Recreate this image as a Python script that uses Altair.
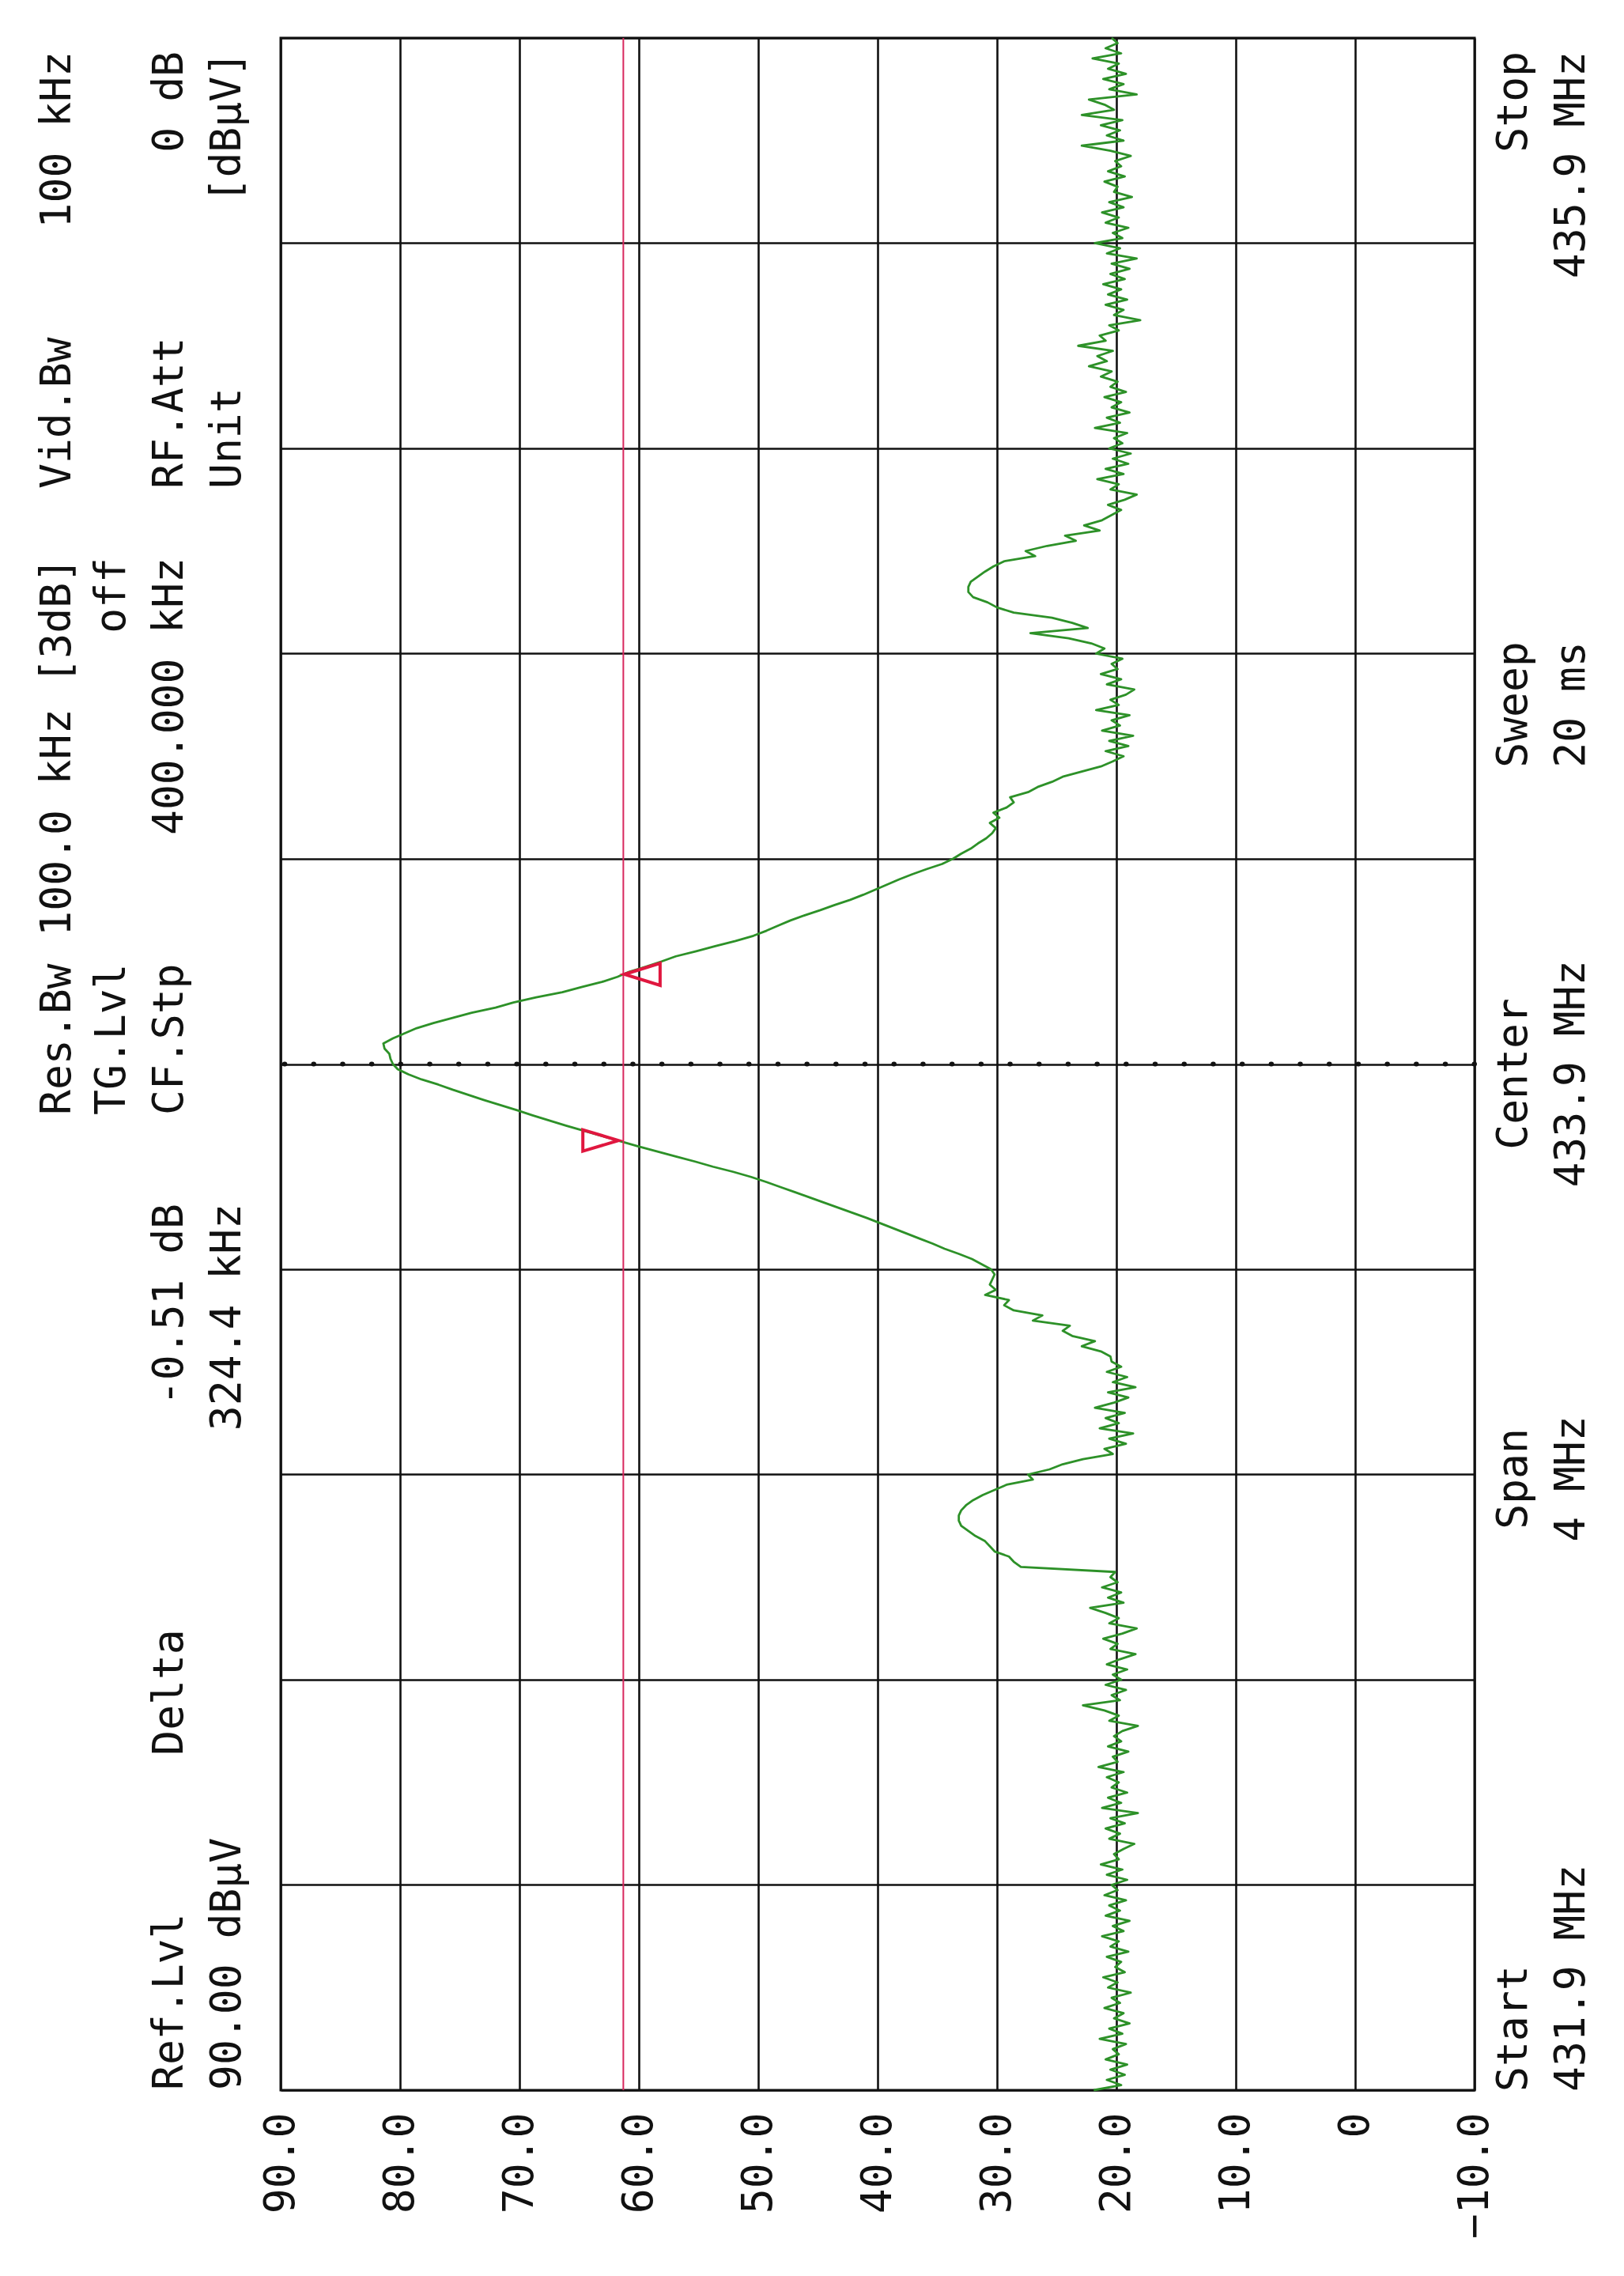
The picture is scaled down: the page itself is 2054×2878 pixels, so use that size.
import altair as alt
import pandas as pd

# ---- sweep data (level in dBuV, 0.01 MHz steps) ----
START_MHZ = 431.9
STEP_MHZ = 0.01

levels = [
    21.9, 19.6, 20.8, 19.3, 20.5, 19.1, 20.9, 19.8, 20.3, 19.2,
    21.4, 19.5, 20.6, 18.9, 20.2, 19.4, 21.0, 19.7, 20.4, 18.8,
    20.7, 19.9, 21.1, 19.3, 20.1, 19.6, 20.8, 19.0, 20.5, 19.8,
    21.2, 19.4, 20.3, 18.9, 20.9, 19.7, 20.6, 19.2, 21.0, 19.9,
    20.4, 19.1, 20.8, 19.5, 21.3, 19.8, 20.2, 19.4, 18.5, 20.6,
    19.7, 20.9, 19.3, 20.5, 18.2, 21.2, 19.6, 20.7, 19.1, 20.4,
    19.8, 20.8, 19.4, 21.5, 19.9, 20.3, 19.0, 20.7, 19.6, 20.2,
    19.5, 18.2, 20.6, 19.8, 21.0, 22.8, 19.7, 20.4, 19.2, 20.9,
    19.6, 20.3, 19.1, 20.8, 19.7, 18.4, 20.5, 19.9, 21.1, 19.5,
    18.3, 20.6, 19.8, 20.9, 22.2, 19.4, 20.7, 19.6, 21.2, 19.9,
    20.5, 20.1, 28.0, 28.6, 29.0, 30.2, 30.6, 31.0, 31.8, 32.4,
    33.0, 33.2, 33.2, 33.0, 32.6, 32.0, 31.2, 30.2, 29.2, 27.0,
    27.4, 25.6, 24.5, 22.8, 20.3, 21.0, 19.2, 20.6, 18.6, 21.4,
    19.8, 20.9, 19.3, 21.8, 20.2, 19.0, 20.7, 18.4, 20.3, 19.1,
    20.8, 19.6, 20.4, 20.5, 21.3, 22.9, 21.8, 23.7, 24.5, 23.9,
    27.0, 26.2, 28.6, 29.4, 29.0, 31.0, 30.1, 30.6, 30.4, 30.2,
    30.5, 31.3, 32.1, 33.2, 34.4, 35.4, 36.5, 37.6, 38.7, 39.8,
    40.9, 42.1, 43.3, 44.5, 45.7, 46.9, 48.1, 49.3, 50.6, 52.1,
    53.8, 55.3, 56.9, 58.5, 60.1, 61.6, 63.1, 64.6, 66.1, 67.5,
    68.9, 70.2, 71.6, 73.0, 74.3, 75.6, 76.8, 78.2, 79.3, 80.2,
    80.6, 80.8, 80.9, 81.3, 81.4, 80.6, 79.6, 78.6, 77.2, 75.6,
    74.0, 72.0, 70.5, 68.6, 66.4, 64.8, 63.1, 61.8, 60.8, 59.4,
    58.1, 56.9, 55.2, 53.6, 51.9, 50.4, 49.3, 48.3, 47.3, 46.1,
    44.8, 43.6, 42.3, 41.2, 40.2, 39.2, 38.2, 37.1, 35.9, 34.6,
    33.7, 33.0, 32.2, 31.6, 30.9, 30.4, 30.1, 30.6, 29.8, 30.3,
    29.2, 28.6, 28.9, 27.4, 26.6, 25.4, 24.5, 22.9, 21.3, 20.3,
    19.4, 20.9, 19.0, 20.6, 18.6, 21.2, 19.7, 20.4, 18.9, 21.7,
    19.8, 20.5, 19.2, 18.5, 20.8, 19.6, 21.3, 19.9, 20.4, 19.5,
    21.7, 21.0, 22.1, 24.0, 27.2, 22.4, 23.7, 25.4, 28.6, 30.0,
    30.8, 32.0, 32.4, 32.4, 32.2, 31.6, 31.0, 30.3, 29.4, 26.8,
    27.6, 25.8, 23.4, 24.3, 21.4, 22.7, 21.2, 20.4, 19.6, 20.7,
    19.3, 18.3, 20.5, 19.8, 21.6, 19.4, 20.9, 19.0, 20.3, 18.8,
    20.6, 19.5, 20.2, 19.1, 21.8, 19.7, 20.8, 18.9, 20.4, 19.6,
    21.0, 19.2, 20.5, 19.9, 21.3, 20.4, 22.3, 20.8, 21.6, 20.3,
    23.2, 20.9, 21.4, 19.8, 20.6, 18.0, 20.2, 19.4, 20.9, 19.1,
    20.7, 19.6, 21.1, 19.3, 20.5, 18.9, 20.4, 18.3, 20.8, 19.7,
    21.8, 19.5, 20.3, 19.0, 20.9, 19.8, 21.2, 19.4, 20.6, 18.7,
    20.2, 19.9, 21.0, 19.3, 20.7, 19.6, 20.1, 18.8, 20.5, 22.9,
    19.4, 20.8, 19.7, 21.3, 19.5, 22.9, 20.2, 21.0, 22.3, 18.3,
    20.6, 19.4, 21.1, 19.2, 20.7, 19.8, 22.0, 19.6, 20.9, 19.9,
    20.4,
]
freqs = [round(START_MHZ + STEP_MHZ * i, 2) for i in range(len(levels))]

level_ticks = [90, 80, 70, 60, 50, 40, 30, 20, 10, 0, -10]
freq_grid = [431.9, 432.3, 432.7, 433.1, 433.5, 433.9, 434.3, 434.7, 435.1, 435.5, 435.9]
display_line = [61.3]
center_freq = [433.9]
marker_freq = [433.751, 434.075]
marker_level = [61.71, 61.20]

# ---- layout ----
PLOT_W = 1510
PLOT_H = 2595
FONT = "DejaVu Sans Mono"
FONT_SIZE = 53
INK = "#111111"
TRACE = "#2d9128"
RED = "#e0173f"

LEFT = [-282, -213, -140, -67]   # text rows left of the grid
RIGHT = [1560, 1633]             # text rows right of the grid
TOP = 48                         # plot top in page pixels

annotations = [
    ("Ref.Lvl", LEFT[2], 2643, "left"),
    ("90.00 dBµV", LEFT[3], 2643, "left"),
    ("Delta", LEFT[2], 2140, "center"),
    ("-0.51 dB", LEFT[2], 1522, "right"),
    ("324.4 kHz", LEFT[3], 1522, "right"),
    ("Res.Bw", LEFT[0], 1410, "left"),
    ("TG.Lvl", LEFT[1], 1410, "left"),
    ("CF.Stp", LEFT[2], 1410, "left"),
    ("100.0 kHz [3dB]", LEFT[0], 705, "right"),
    ("off", LEFT[1], 705, "right"),
    ("400.000 kHz", LEFT[2], 705, "right"),
    ("Vid.Bw", LEFT[0], 618, "left"),
    ("RF.Att", LEFT[2], 618, "left"),
    ("Unit", LEFT[3], 618, "left"),
    ("100 kHz", LEFT[0], 65, "right"),
    ("0 dB", LEFT[2], 65, "right"),
    ("[dBµV]", LEFT[3], 65, "right"),
    ("Start", RIGHT[0], 2645, "left"),
    ("431.9 MHz", RIGHT[1], 2645, "left"),
    ("Span", RIGHT[0], 1870, "center"),
    ("4 MHz", RIGHT[1], 1870, "center"),
    ("Center", RIGHT[0], 1358, "center"),
    ("433.9 MHz", RIGHT[1], 1358, "center"),
    ("Sweep", RIGHT[0], 891, "center"),
    ("20 ms", RIGHT[1], 891, "center"),
    ("Stop", RIGHT[0], 65, "right"),
    ("435.9 MHz", RIGHT[1], 65, "right"),
]

x_scale = alt.Scale(domain=[-10, 90], reverse=True, nice=False, zero=False)
y_scale = alt.Scale(domain=[431.9, 435.9], nice=False, zero=False)

trace_df = pd.DataFrame({"f": freqs, "L": levels})

trace = alt.Chart(trace_df).mark_line(
    color=TRACE, strokeWidth=2.8, strokeJoin="round"
).encode(
    x=alt.X("L:Q", scale=x_scale, axis=alt.Axis(
        values=level_ticks, title=None,
        labelExpr="datum.value == 0 ? '0' : format(datum.value, '.1f')",
    )),
    y=alt.Y("f:Q", scale=y_scale, axis=alt.Axis(values=freq_grid, title=None, labels=False)),
    order=alt.Order("f:Q"),
)

disp = alt.Chart(pd.DataFrame({"L": display_line})).mark_rule(
    color="#d8285e", strokeWidth=2
).encode(x="L:Q")

center = alt.Chart(pd.DataFrame({"f": center_freq})).mark_rule(
    color=INK, strokeWidth=6, strokeCap="round", strokeDash=[0.5, 36.2]
).encode(y="f:Q")

mk = pd.DataFrame({"f": marker_freq, "L": marker_level})
marker_ref = alt.Chart(mk.iloc[[0]]).mark_point(
    shape="M 0 0 L -2 -0.6 L -2 0.6 Z", size=2025, filled=False,
    color=RED, strokeWidth=4, opacity=1
).encode(x="L:Q", y="f:Q")
marker_delta = alt.Chart(mk.iloc[[1]]).mark_point(
    shape="M 0 0 L 2 -0.62 L 2 0.62 Z", size=2025, filled=False,
    color=RED, strokeWidth=4, opacity=1
).encode(x="L:Q", y="f:Q")

texts = []
for label, tx, ty, align in annotations:
    texts.append(
        alt.Chart(pd.DataFrame({"t": [label]})).mark_text(
            angle=270, align=align, baseline="middle",
            font=FONT, fontSize=FONT_SIZE, color=INK,
        ).encode(
            x=alt.value(tx), y=alt.value(ty - TOP), text="t:N"
        )
    )

chart = alt.layer(trace, disp, center, marker_ref, marker_delta, *texts).properties(
    width=PLOT_W,
    height=PLOT_H,
    autosize=alt.AutoSizeParams(type="none"),
    padding={"left": 347, "top": 40, "right": 181, "bottom": 227},
    background="white",
).configure_view(
    stroke=INK, strokeWidth=3
).configure_axisX(
    grid=True, gridColor=INK, gridWidth=2.6, gridOpacity=1,
    domain=False, ticks=False, labelAngle=270, labelAlign="right",
    labelBaseline="middle", labelFont=FONT, labelFontSize=FONT_SIZE,
    labelColor=INK, labelPadding=28, labelOverlap=False, labelFlush=False,
).configure_axisY(
    grid=True, gridColor=INK, gridWidth=2.6, gridOpacity=1,
    domain=False, ticks=False, labels=False,
)

chart.save("out.html", embed_options={"renderer": "svg", "actions": False})
